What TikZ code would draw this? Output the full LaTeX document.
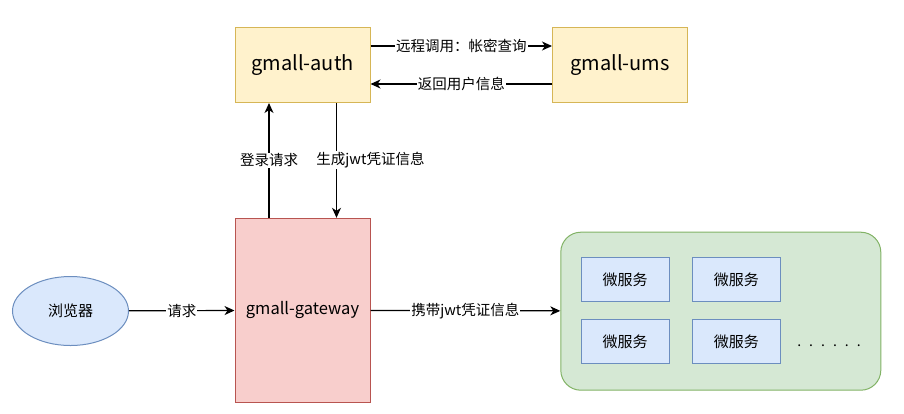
\documentclass[tikz,border=0pt]{standalone}
\usepackage{fontspec}
\setmainfont{Noto Sans CJK SC}
\usetikzlibrary{arrows.meta}
\usetikzlibrary{shapes.geometric}
\definecolor{authFill}{HTML}{FFF2CC}
\definecolor{authLine}{HTML}{D6B656}
\definecolor{gateFill}{HTML}{F8CECC}
\definecolor{gateLine}{HTML}{B85450}
\definecolor{blueFill}{HTML}{DAE8FC}
\definecolor{blueLine}{HTML}{6C8EBF}
\definecolor{greenFill}{HTML}{D5E8D4}
\definecolor{greenLine}{HTML}{82B366}

\begin{document}
\begin{tikzpicture}
[x=1pt,y=-1pt,
  lineDecorate/.style={-{Stealth[length=10pt,width=9pt,inset=3pt]},line width=1.2pt},%
  labelText/.style={fill=white,inner sep=1pt,font=\fontsize{14.5}{14.5}\selectfont},%
  yellowBox/.style={draw=authLine,fill=authFill,line width=1pt,minimum width=135pt,minimum height=75pt,font=\fontsize{20}{20}\selectfont},%
  redBox/.style={draw=gateLine,fill=gateFill,line width=1pt,minimum width=135pt,minimum height=184pt,font=\fontsize{16.5}{16.5}\selectfont},%
  serviceBox/.style={draw=blueLine,fill=blueFill,line width=1pt,minimum width=88pt,minimum height=44pt,font=\fontsize{15}{15}\selectfont}]
\useasboundingbox (0,0) rectangle (904,413);
%% nodes or vertices
\node (auth) at (302.5,65) [yellowBox] {gmall-auth};
\node (ums) at (620,65) [yellowBox] {gmall-ums};
\node (gw) at (302.5,310.3) [redBox] {gmall-gateway};
\node (browser) at (70.5,311) [ellipse,draw=blueLine,fill=blueFill,line width=1pt,
  minimum width=116pt,minimum height=69pt,font=\fontsize{15}{15}\selectfont] {浏览器};
\node (cluster) at (720.8,311.2) [draw=greenLine,fill=greenFill,line width=1pt,
  rounded corners=20pt,minimum width=320pt,minimum height=158pt] {};
\foreach \nodename/\x/\y in {
  ms1/625.2/279.8, ms2/736.3/279.8, ms3/625.2/341.8, ms4/736.3/341.8}
{
  \node (\nodename) at (\x,\y) [serviceBox] {微服务};
}
\node (more) at (829,346) [font=\fontsize{14}{14}\selectfont]
  {.\hspace{8pt}.\hspace{8pt}.\hspace{8pt}.\hspace{8pt}.\hspace{8pt}.};
%% edges or lines
\draw[lineDecorate] ([yshift=19pt]auth.east) -- node[labelText] {远程调用：帐密查询} ([yshift=19pt]ums.west);
\draw[lineDecorate] ([yshift=-19pt]ums.west) -- node[labelText] {返回用户信息} ([yshift=-19pt]auth.east);
\draw[lineDecorate] ([xshift=-33.5pt]gw.north) -- node[labelText] {登录请求} ([xshift=-33.5pt]auth.south);
\draw[lineDecorate] ([xshift=34pt]auth.south) -- node[labelText,xshift=34pt] {生成jwt凭证信息} ([xshift=34pt]gw.north);
\path
\foreach \startnode/\endnode/\labeltext in {
  browser/gw/请求, gw/cluster/携带jwt凭证信息}
{
  (\startnode) edge[lineDecorate] node[labelText] {\labeltext} (\endnode)
};
\end{tikzpicture}
\end{document}
